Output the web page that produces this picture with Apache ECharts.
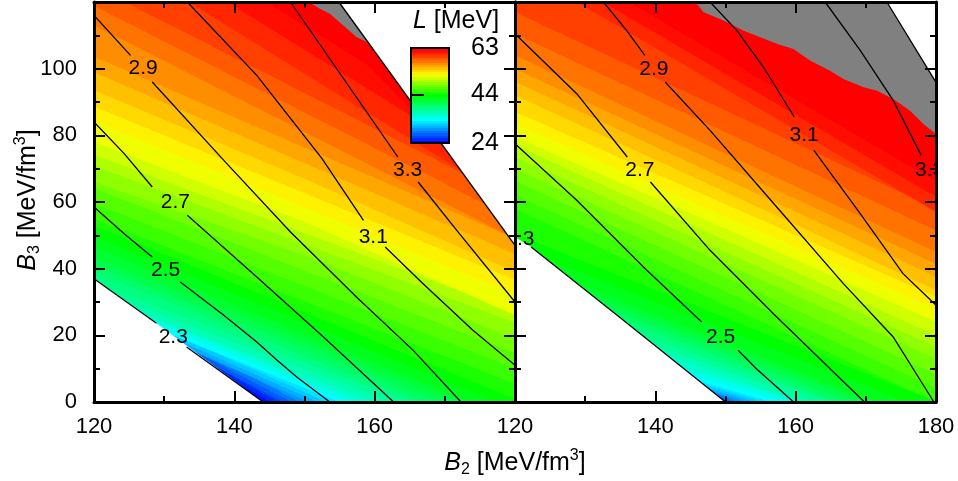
<!DOCTYPE html>
<html>
<head>
<meta charset="utf-8">
<script src="https://cdn.jsdelivr.net/npm/echarts@6/dist/echarts.min.js"></script>
<style>
  html, body { margin: 0; padding: 0; background: #fff; }
  #chart { width: 958px; height: 481px; }
</style>
</head>
<body>
<div id="chart"></div>
<script>
var FONT = '"Liberation Sans", Arial, sans-serif';

// L [MeV] fill levels; each iso-L line is given by its B3 value at B2 = 120, 150, 180
var levels = [24, 27, 30, 33, 36, 39, 42, 45, 48, 51, 54, 57, 60, 63];
var isoB2 = [120, 150, 180];
var isoLeft = [
    [29, -7, -43], [29.7, -3.3, -36.3], [28.4, 0.5, -27.4], [29.5, 4.2, -21.1],
    [31.9, 8, -15.9], [39, 13.8, -11.3], [46.5, 20.4, -5.6], [55, 30.2, 5.5],
    [66, 44, 19], [78, 54, 26], [93.5, 67, 39], [113, 81, 49],
    [137.6, 98.5, 59.5], [183, 120, 56.5]
];
var isoRight = [
    [22.8, -1.2, -25.2], [24.4, 0.4, -23.6], [20.3, 1.9, -16.6], [22, 3.9, -14.2],
    [29.7, 7.7, -14.3], [37.2, 12.7, -11.8], [42.9, 17.8, -7.3], [58, 29, 0],
    [70, 41.5, 13], [79.5, 52, 24], [92, 63, 33.5], [104, 74.5, 45],
    [130.8, 93.9, 57], [182.5, 107.5, 76]
];

// black contour lines, split around their labels
var contourNames = ['2.3', '2.5', '2.7', '2.9', '3.1', '3.3'];
var leftContourA = [
    [[120, 37], [128.9, 23.6]],
    [[120, 58.5], [124.3, 50.5], [128.3, 43.5]],
    [[120, 84], [124.3, 74.5], [128.3, 64.5]],
    [[120, 116], [125.2, 104]],
    [[133.3, 120], [143.2, 98], [152.5, 73], [158.4, 54.5]],
    [[148, 120], [163.3, 73.5]]
];
var leftContourB = [
    [[133.2, 16.5], [144.1, 0]],
    [[132.3, 36], [138.5, 26], [143.2, 18], [146.1, 12.5], [148.9, 7.5], [153.6, 0]],
    [[133.3, 56], [143.2, 37.5], [152.7, 19.5], [162.7, 0]],
    [[128.3, 96], [138.5, 72.5], [148, 51], [157.4, 31.5], [165.5, 15.5], [172.3, 0]],
    [[161.5, 46.5], [166.9, 35.5], [174, 21.5], [180, 11]],
    [[166.2, 66], [171.7, 51.5], [180, 30]]
];
var leftLabelAt = [[131.3, 19.5], [130.2, 39.5], [131.6, 60], [127, 100], [159.8, 49.5], [164.7, 69.5]];

var rightContourA = [
    [],
    [[120, 77.5], [128.8, 60.5], [138.3, 40.5], [146.6, 24]],
    [[120, 110.5], [128.8, 92.5], [136, 73.5]],
    [[132.6, 120], [135.9, 111.5], [138.5, 104]],
    [[147.8, 120], [151.6, 111.5], [155.4, 100.5], [159.8, 85.5]],
    [[164.2, 120], [169.2, 105.5], [173.9, 90.5], [177.9, 74]]
];
var rightContourB = [
    [[122.3, 46.5], [135, 25.3], [150, 0]],
    [[151.8, 15.5], [154.4, 10], [159.7, 0]],
    [[139.3, 66], [147.8, 45.5], [157.3, 25.5], [169.8, 0]],
    [[141.4, 96], [147.8, 81.5], [157.3, 58.5], [166.8, 35.5], [173.9, 19.5], [179.7, 0]],
    [[162.6, 75.5], [169.2, 56.5], [175.3, 38.5], [180, 29]],
    []
];
var rightLabelAt = [[120.7, 48.8], [149.3, 19.3], [137.8, 69.5], [139.8, 99.8], [161.2, 80], [179.1, 69.5]];

// edges of the allowed region and the grey patches
var leftLowEdge = [[120, 37], [128.9, 23.6], [144.1, 0]];
var leftTopEdge = [[154.9, 120], [180, 47]];
var leftGray = [[150.6, 120], [152.2, 118], [153.6, 116.5], [155.5, 113], [157.4, 109.5], [159.1, 107.8], [154.9, 120]];
var rightLowEdge = [[120, 49.5], [122.3, 46.5], [135, 25.3], [150, 0]];
var rightTopEdge = [[173, 120], [180, 95.9]];
var rightGray = [[145.7, 120], [146.9, 116.9], [149.8, 114.4], [152.6, 111.4], [157.4, 107.4], [159.7, 105.9],
    [162.1, 102.4], [164.9, 99.4], [166.8, 96.9], [169.7, 94.4], [171.6, 93.4], [173.9, 90.9],
    [176.3, 87.4], [178.2, 83.4], [180, 80.4], [180, 95.9], [173, 120]];

var cbRange = [24, 63];
var cbTicks = [24, 44, 63];

// colour map of the colour bar
var cmapStops = [
    [24, [0, 0, 255]], [28.75, [0, 128, 255]], [33.5, [0, 255, 255]], [38.5, [0, 255, 128]],
    [43.5, [0, 255, 0]], [48, [128, 255, 0]], [52, [255, 255, 0]], [57, [255, 128, 0]],
    [62, [255, 0, 0]], [63, [255, 0, 0]]
];
function cmap(v) {
    var a = cmapStops[0], b;
    if (v <= a[0]) return 'rgb(' + a[1].join(',') + ')';
    for (var i = 1; i < cmapStops.length; i++) {
        a = cmapStops[i - 1]; b = cmapStops[i];
        if (v <= b[0]) {
            var t = (v - a[0]) / (b[0] - a[0]);
            return 'rgb(' + [0, 1, 2].map(function (j) {
                return Math.round(a[1][j] + t * (b[1][j] - a[1][j]));
            }).join(',') + ')';
        }
    }
    return 'rgb(' + cmapStops[cmapStops.length - 1][1].join(',') + ')';
}

// each level paints everything above its line; the next level paints over it
function bandRenderer(iso) {
    return function (params, api) {
        var k = params.dataIndex;
        var pts = isoB2.map(function (b2, j) { return api.coord([b2, iso[k][j]]); });
        var poly = pts.concat([api.coord([isoB2[2], 400]), api.coord([isoB2[0], 400])]);
        var fill = cmap(levels[k]);
        if (k < levels.length - 1) {
            var nxt = api.coord([isoB2[1], iso[k + 1][1]]);
            var dx = pts[2][0] - pts[0][0], dy = pts[2][1] - pts[0][1];
            var len = Math.sqrt(dx * dx + dy * dy);
            var nx = -dy / len, ny = dx / len;
            var d = (nxt[0] - pts[1][0]) * nx + (nxt[1] - pts[1][1]) * ny;
            var step = levels[k + 1] - levels[k];
            if (Math.abs(d) > 1) {
                var stops = [];
                for (var s = 0; s < step; s++) {
                    var c = cmap(levels[k] + s + 0.5);
                    stops.push({offset: s / step, color: c}, {offset: (s + 1) / step, color: c});
                }
                fill = new echarts.graphic.LinearGradient(pts[1][0], pts[1][1],
                    pts[1][0] + nx * d, pts[1][1] + ny * d, stops, true);
            }
        }
        return {type: 'polygon', shape: {points: poly}, style: {fill: fill, lineWidth: 0}};
    };
}

function maskRenderer(lowEdge, topEdge, gray) {
    var lowLast = lowEdge[lowEdge.length - 1];
    var topLast = topEdge[topEdge.length - 1];
    var shapes = [
        lowEdge.concat([[lowLast[0], -10], [110, -10], [110, lowEdge[0][1]]]),
        topEdge.concat([[topLast[0] + 10, topLast[1]], [topLast[0] + 10, 130], [topEdge[0][0], 130]]),
        gray
    ];
    var fills = ['#ffffff', '#ffffff', '#808080'];
    return function (params, api) {
        var i = params.dataIndex;
        return {
            type: 'polygon',
            shape: {points: shapes[i].map(function (p) { return api.coord(p); })},
            style: {fill: fills[i], lineWidth: 0}
        };
    };
}

function labelRenderer(pos) {
    return function (params, api) {
        var p = api.coord(pos[params.dataIndex]);
        return {
            type: 'text', x: p[0], y: p[1],
            style: {text: contourNames[params.dataIndex], fontSize: 21, fontFamily: FONT,
                fill: '#000', align: 'center', verticalAlign: 'middle'}
        };
    };
}

function lineData(segA, segB, edge) {
    var out = [];
    segA.concat(segB).forEach(function (s) { if (s.length) out.push({coords: s}); });
    out.push({coords: edge});
    return out;
}

function colorbarRenderer(params, api) {
    var p0 = api.coord([0, cbRange[0]]), p1 = api.coord([1, cbRange[1]]);
    var span = cbRange[1] - cbRange[0], stops = [];
    for (var v = cbRange[0]; v < cbRange[1]; v++) {
        var c = cmap(v + 0.5);
        stops.push({offset: (v - cbRange[0]) / span, color: c}, {offset: (v + 1 - cbRange[0]) / span, color: c});
    }
    var rect = {x: p0[0], y: p1[1], width: p1[0] - p0[0], height: p0[1] - p1[1]};
    return {
        type: 'group', children: [
            {type: 'rect', shape: rect, style: {fill: new echarts.graphic.LinearGradient(0, 1, 0, 0, stops)}},
            {type: 'rect', shape: rect, style: {fill: 'none', stroke: '#000', lineWidth: 2}}
        ]
    };
}

var tickStyle = {color: '#000', width: 2};
function xAx(grid, pos, showLabel, hideMax) {
    return {
        type: 'value', gridIndex: grid, position: pos, min: 120, max: 180, interval: 20, z: 10,
        axisLine: {show: true, onZero: false, lineStyle: {color: '#000', width: 3}},
        axisTick: {show: true, inside: true, length: 11, lineStyle: tickStyle},
        minorTick: {show: true, splitNumber: 2, length: 6, lineStyle: tickStyle},
        splitLine: {show: false},
        axisLabel: {
            show: showLabel, margin: 14, fontSize: 22, fontFamily: FONT, color: '#000',
            formatter: function (v) { return (hideMax && v === 180) ? '' : String(v); }
        }
    };
}
function yAx(grid, pos, showLabel) {
    return {
        type: 'value', gridIndex: grid, position: pos, min: 0, max: 120, interval: 20, z: 10,
        axisLine: {show: true, onZero: false, lineStyle: {color: '#000', width: 3}},
        axisTick: {show: true, inside: true, length: 11, lineStyle: tickStyle},
        minorTick: {show: true, splitNumber: 2, length: 6, lineStyle: tickStyle},
        splitLine: {show: false},
        axisLabel: {
            show: showLabel, margin: 17, fontSize: 22, fontFamily: FONT, color: '#000',
            formatter: function (v) { return v === 120 ? '' : String(v); }
        }
    };
}

var titleRich = {
    i: {fontStyle: 'italic', fontSize: 25, fontFamily: FONT, lineHeight: 30},
    n: {fontSize: 25, fontFamily: FONT, lineHeight: 30},
    sub: {fontSize: 16, fontFamily: FONT, verticalAlign: 'bottom', lineHeight: 14},
    sup: {fontSize: 16, fontFamily: FONT, verticalAlign: 'top', lineHeight: 18}
};

var chart = echarts.init(document.getElementById('chart'));
chart.setOption({
    animation: false,
    backgroundColor: '#fff',
    grid: [
        {left: 94, top: 2, width: 421, height: 400, containLabel: false, outerBoundsMode: 'none'},
        {left: 515, top: 2, width: 421, height: 400, containLabel: false, outerBoundsMode: 'none'},
        {left: 411, top: 48, width: 38, height: 95, containLabel: false, outerBoundsMode: 'none'}
    ],
    xAxis: [
        xAx(0, 'bottom', true, true), xAx(0, 'top', false, false),
        xAx(1, 'bottom', true, false), xAx(1, 'top', false, false),
        {type: 'value', gridIndex: 2, min: 0, max: 1, show: false}
    ],
    yAxis: [
        yAx(0, 'left', true), yAx(0, 'right', false),
        yAx(1, 'left', false), yAx(1, 'right', false),
        {
            type: 'value', gridIndex: 2, position: 'right', min: cbRange[0], max: cbRange[1], z: 30,
            axisLine: {show: false},
            axisTick: {show: true, inside: false, length: 13, customValues: cbTicks, lineStyle: tickStyle},
            splitLine: {show: false},
            axisLabel: {margin: 22, fontSize: 25, fontFamily: FONT, color: '#000', customValues: cbTicks}
        }
    ],
    graphic: [
        {type: 'text', x: 515, y: 463, z: 50,
            style: {text: '{i|B}{sub|2}{n| [MeV/fm}{sup|3}{n|]}', rich: titleRich, fill: '#000',
                align: 'center', verticalAlign: 'middle'}},
        {type: 'text', x: 28, y: 200, rotation: Math.PI / 2, z: 50,
            style: {text: '{i|B}{sub|3}{n| [MeV/fm}{sup|3}{n|]}', rich: titleRich, fill: '#000',
                align: 'center', verticalAlign: 'middle'}},
        {type: 'text', x: 456, y: 21, z: 50,
            style: {text: '{i|L}{n| [MeV]}', rich: titleRich, fill: '#000',
                align: 'center', verticalAlign: 'middle'}}
    ],
    series: [
        {type: 'custom', name: 'L left', xAxisIndex: 0, yAxisIndex: 0, clip: true, silent: true, z: 1,
            data: levels.map(function (L, i) { return [i, L]; }), renderItem: bandRenderer(isoLeft)},
        {type: 'custom', name: 'L right', xAxisIndex: 2, yAxisIndex: 2, clip: true, silent: true, z: 1,
            data: levels.map(function (L, i) { return [i, L]; }), renderItem: bandRenderer(isoRight)},
        {type: 'custom', name: 'mask left', xAxisIndex: 0, yAxisIndex: 0, clip: true, silent: true, z: 2,
            data: [[0, 0], [1, 0], [2, 0]], renderItem: maskRenderer(leftLowEdge, leftTopEdge, leftGray)},
        {type: 'custom', name: 'mask right', xAxisIndex: 2, yAxisIndex: 2, clip: true, silent: true, z: 2,
            data: [[0, 0], [1, 0], [2, 0]], renderItem: maskRenderer(rightLowEdge, rightTopEdge, rightGray)},
        {type: 'lines', name: 'contours left', coordinateSystem: 'cartesian2d', xAxisIndex: 0, yAxisIndex: 0,
            polyline: true, clip: true, silent: true, z: 3,
            lineStyle: {color: '#000', width: 1.3, opacity: 1},
            data: lineData(leftContourA, leftContourB, leftTopEdge)},
        {type: 'lines', name: 'contours right', coordinateSystem: 'cartesian2d', xAxisIndex: 2, yAxisIndex: 2,
            polyline: true, clip: true, silent: true, z: 3,
            lineStyle: {color: '#000', width: 1.3, opacity: 1},
            data: lineData(rightContourA, rightContourB, rightTopEdge)},
        {type: 'custom', name: 'labels left', xAxisIndex: 0, yAxisIndex: 0, clip: true, silent: true, z: 4,
            data: leftLabelAt, renderItem: labelRenderer(leftLabelAt)},
        {type: 'custom', name: 'labels right', xAxisIndex: 2, yAxisIndex: 2, clip: true, silent: true, z: 4,
            data: rightLabelAt, renderItem: labelRenderer(rightLabelAt)},
        {type: 'custom', name: 'colorbar', xAxisIndex: 4, yAxisIndex: 4, silent: true, z: 20,
            data: [[0, cbRange[0]]], renderItem: colorbarRenderer}
    ]
});
</script>
</body>
</html>
